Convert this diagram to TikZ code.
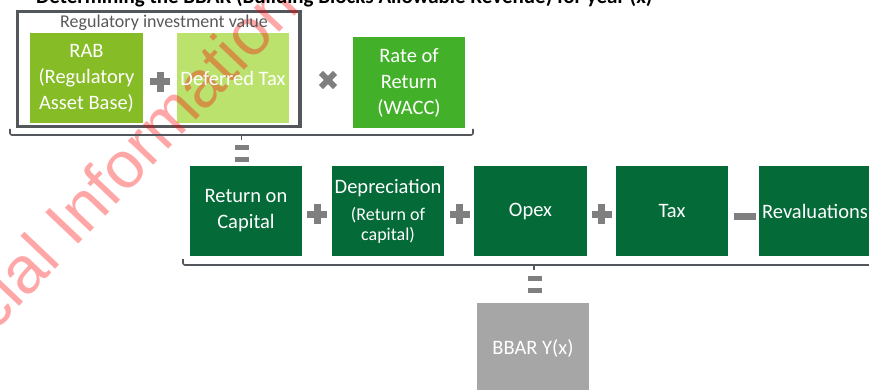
\documentclass[tikz,border=0pt]{standalone}
\usepackage{fontspec}
\setmainfont{Carlito}
\newfontfamily\wmfont{Liberation Sans}
\pgfdeclarelayer{bg}
\pgfdeclarelayer{wm}
\pgfsetlayers{bg,wm,main}
\definecolor{rabgreen}{RGB}{134,188,37}
\definecolor{defgreen}{RGB}{188,226,110}
\definecolor{rategreen}{RGB}{67,176,42}
\definecolor{darkgreen}{RGB}{4,106,56}
\definecolor{opgray}{RGB}{127,127,127}
\definecolor{boxgray}{RGB}{166,166,166}
\definecolor{framegray}{RGB}{83,86,90}
\definecolor{labelgray}{RGB}{89,89,89}
\newcommand\myplus[2]{\fill[opgray] (#1-10,#2-3.5) rectangle (#1+10,#2+3.5);\fill[opgray] (#1-3.5,#2-10) rectangle (#1+3.5,#2+10);}
\newcommand\myminus[2]{\fill[opgray] (#1-11,#2-3.5) rectangle (#1+11,#2+3.5);}
\newcommand\myequals[2]{\fill[opgray] (#1-7,#2-8.5) rectangle (#1+7,#2-3.5);\fill[opgray] (#1-7,#2+3.5) rectangle (#1+7,#2+8.5);}
\newcommand\mysmall{\fontsize{18}{20}\selectfont}
\begin{document}
\begin{tikzpicture}[x=1pt,y=-1pt,
  block/.style={minimum width=112, minimum height=90, inner sep=0, text=white, align=center, font=\fontsize{20.5}{26}\selectfont},
  bracestyle/.style={draw=framegray, line width=1.6, rounded corners=2}]
\useasboundingbox (0,0) rectangle (869,390);
% title
\node[anchor=base west, inner sep=0, font=\bfseries\fontsize{21}{25}\selectfont, text=black] (title) at (36,3.5) {Determining the BBAR (Building Blocks Allowable Revenue) for year (x)};
% top row
\node[block, minimum width=113] (rab) at (86.5,78) {RAB\\(Regulatory\\Asset Base)};
\node[block] (def) at (233,78) {Deferred Tax};
\node[block, minimum height=91] (rate) at (409,82.5) {Rate of\\Return\\(WACC)};
\node[anchor=base, inner sep=0, text=labelgray, font=\fontsize{18}{20}\selectfont] (riv) at (164,28) {Regulatory investment value};
% second row
\node[block] (ret) at (246,211) {Return on\\Capital};
\node[block] (dep) at (388,211) {Depreciation\\[1pt]{\mysmall (Return of}\\[-6pt]{\mysmall capital)}};
\node[block] (opex) at (530.5,211) {Opex};
\node[block] (tax) at (672,211) {Tax};
\node[block] (reval) at (815,211) {Revaluations};
% result
\node[block] (bbar) at (533,348) {BBAR Y(x)};
\begin{pgfonlayer}{bg}
\fill[rabgreen] (rab.south west) rectangle (rab.north east);
\fill[defgreen] (def.south west) rectangle (def.north east);
\fill[rategreen] (rate.south west) rectangle (rate.north east);
\foreach \n in {ret,dep,opex,tax,reval}{\fill[darkgreen] (\n.south west) rectangle (\n.north east);}
\fill[boxgray] (bbar.south west) rectangle (bbar.north east);
\draw[framegray, line width=3.3] (17.5,11.5) rectangle (300,126.5);
\end{pgfonlayer}
% operators
\myplus{160}{82}
\begin{scope}[shift={(328,80)}, rotate=45]
\fill[opgray] (-10,-3) rectangle (10,3);
\fill[opgray] (-3,-10) rectangle (3,10);
\end{scope}
\myplus{317}{214}
\myplus{459.5}{214}
\myplus{601.5}{214}
\myminus{744.5}{216.5}
\myequals{242}{153.5}
\myequals{535}{284}
% braces
\draw[bracestyle] (10,129) -- (10,135) -- (473,135) -- (473,129);
\draw[framegray, line width=1.6] (241.5,135) -- (241.5,140);
\draw[bracestyle] (183,259) -- (183,265) -- (885,265) -- (885,259);
\draw[framegray, line width=1.6] (534,265) -- (534,270);
% watermark
\begin{pgfonlayer}{wm}
\node[anchor=base west, inner sep=0, rotate=46.5, text=red, text opacity=0.35, font=\wmfont\fontsize{66}{70}\selectfont] (wmark) at (-6,334) {cial Information};
\end{pgfonlayer}
\end{tikzpicture}
\end{document}
